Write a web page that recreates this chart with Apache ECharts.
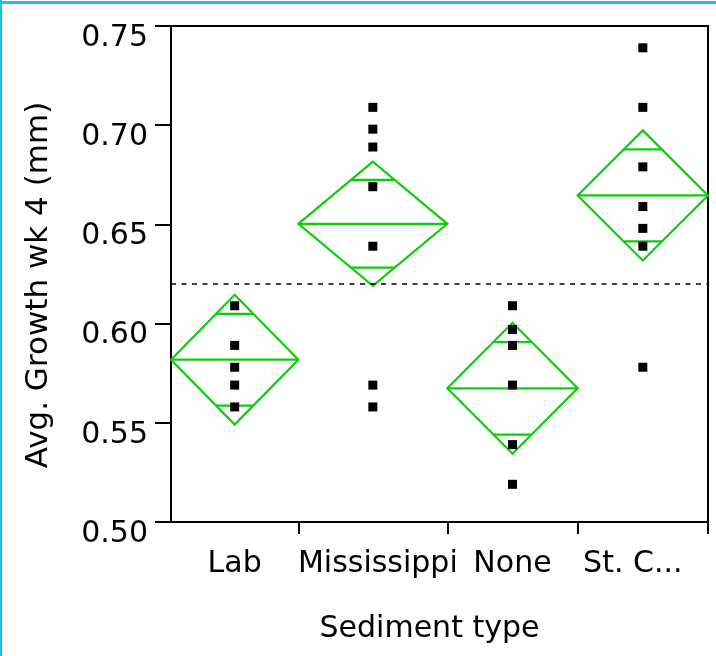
<!DOCTYPE html>
<html>
<head>
<meta charset="utf-8">
<script src="https://cdn.jsdelivr.net/npm/echarts@6/dist/echarts.min.js"></script>
<style>
html,body{margin:0;padding:0;background:#fff;}
#chart{width:716px;height:656px;}
</style>
</head>
<body>
<div id="chart"></div>
<script>
// ---- data ----
const categories = ['Lab', 'Mississippi', 'None', 'St. C...'];
// relative group widths (JMP sizes each group by its sample size)
const groupWidths = [5.93, 6.94, 6.07, 6.07];
// group means and 95% CI half-widths (means diamonds)
const groupMeans = [0.5818, 0.6503, 0.5674, 0.6646];
const ciHalf = [0.0327, 0.0313, 0.0330, 0.0328];
// raw observations per group
const labValues = [0.609, 0.589, 0.578, 0.569, 0.558];
const mississippiValues = [0.709, 0.698, 0.689, 0.669, 0.639, 0.569, 0.558];
const noneValues = [0.609, 0.597, 0.589, 0.569, 0.539, 0.519];
const stCValues = [0.739, 0.709, 0.679, 0.659, 0.648, 0.639, 0.578];
const grandMean = 0.6175;
const yMin = 0.50, yMax = 0.75, yStep = 0.05;

// ---- derived ----
const groupValues = [labValues, mississippiValues, noneValues, stCValues];
const boundaries = [0];
groupWidths.forEach(w => boundaries.push(boundaries[boundaries.length - 1] + w));
const centers = groupWidths.map((w, i) => boundaries[i] + w / 2);
const total = boundaries[boundaries.length - 1];

const pointData = [];
groupValues.forEach((vals, i) => vals.forEach(v => pointData.push([centers[i], v])));

const GREEN = '#0fcc0f';
const FONT = 'DejaVu Sans';
// label padding (style) per category, to mimic the reference placement
const labelRich = {
  c0: {padding: [0, 0, 0, 0]},
  c1: {padding: [0, 0, 0, 10]},
  c2: {padding: [0, 0, 0, 0]},
  c3: {padding: [0, 20, 0, 0]}
};

const chart = echarts.init(document.getElementById('chart'), null, {renderer: 'canvas'});

function renderDiamond(params, api) {
  const i = api.value(0);
  const l = boundaries[i], r = boundaries[i + 1], c = centers[i];
  const m = groupMeans[i], h = ciHalf[i];
  const L = api.coord([l, m]), R = api.coord([r, m]);
  const T = api.coord([c, m + h]), B = api.coord([c, m - h]);
  const k = 1 / Math.SQRT2;
  const hw = (r - l) / 2 * (1 - k);
  const u1 = api.coord([c - hw, m + h * k]), u2 = api.coord([c + hw, m + h * k]);
  const d1 = api.coord([c - hw, m - h * k]), d2 = api.coord([c + hw, m - h * k]);
  const st = {stroke: GREEN, lineWidth: 2.2, fill: null};
  return {
    type: 'group',
    children: [
      {type: 'polygon', shape: {points: [L, T, R, B]}, style: st},
      {type: 'line', shape: {x1: L[0], y1: L[1], x2: R[0], y2: R[1]}, style: st},
      {type: 'line', shape: {x1: u1[0], y1: u1[1], x2: u2[0], y2: u2[1]}, style: st},
      {type: 'line', shape: {x1: d1[0], y1: d1[1], x2: d2[0], y2: d2[1]}, style: st}
    ]
  };
}

const option = {
  animation: false,
  backgroundColor: '#fff',
  textStyle: {fontFamily: FONT},
  grid: {
    left: 171, right: 8, top: 26, bottom: 134,
    show: true, borderColor: '#000', borderWidth: 2, backgroundColor: 'transparent'
  },
  xAxis: {
    type: 'value', min: 0, max: total,
    name: 'Sediment type', nameLocation: 'middle', nameGap: 92,
    nameTextStyle: {fontFamily: FONT, fontSize: 30, color: '#000', padding: [0, 20, 0, 0]},
    axisLine: {show: true, lineStyle: {color: '#000', width: 2}},
    axisTick: {show: true, customValues: boundaries.slice(1), length: 12, lineStyle: {color: '#000', width: 2}},
    axisLabel: {
      customValues: centers, margin: 27,
      fontFamily: FONT, fontSize: 30, color: '#000',
      rich: labelRich,
      formatter: v => {
        const idx = centers.findIndex(c => Math.abs(c - v) < 1e-6);
        return idx >= 0 ? '{c' + idx + '|' + categories[idx] + '}' : '';
      }
    },
    splitLine: {show: false}
  },
  yAxis: {
    type: 'value', min: yMin, max: yMax, interval: yStep,
    name: 'Avg. Growth wk 4 (mm)', nameLocation: 'middle', nameGap: 117,
    nameTextStyle: {fontFamily: FONT, fontSize: 31, color: '#000', padding: [0, 22, 0, 0]},
    axisLine: {show: true, lineStyle: {color: '#000', width: 2}},
    axisTick: {show: true, length: 16, lineStyle: {color: '#000', width: 2}},
    axisLabel: {
      margin: 23, fontFamily: FONT, fontSize: 30, color: '#000',
      verticalAlign: 'top', lineHeight: 24,
      formatter: v => v.toFixed(2)
    },
    splitLine: {show: false}
  },
  graphic: [
    {type: 'rect', left: 0, top: 0, shape: {width: 2, height: 656}, style: {fill: '#1bbff0'}, silent: true},
    {type: 'rect', left: 0, top: 1, shape: {width: 716, height: 3}, style: {fill: '#1bbff0'}, silent: true}
  ],
  series: [
    {
      type: 'custom',
      coordinateSystem: 'cartesian2d',
      renderItem: renderDiamond,
      data: categories.map((c, i) => [i]),
      encode: {x: -1, y: -1},
      clip: false,
      z: 2
    },
    {
      type: 'scatter',
      data: pointData,
      symbol: 'rect',
      symbolSize: 9,
      itemStyle: {color: '#000', opacity: 1},
      z: 3,
      markLine: {
        silent: true,
        symbol: 'none',
        label: {show: false},
        lineStyle: {color: '#000', width: 1.5, type: [5, 5.5], opacity: 1},
        data: [{yAxis: grandMean}]
      }
    }
  ]
};
chart.setOption(option);
</script>
</body>
</html>
